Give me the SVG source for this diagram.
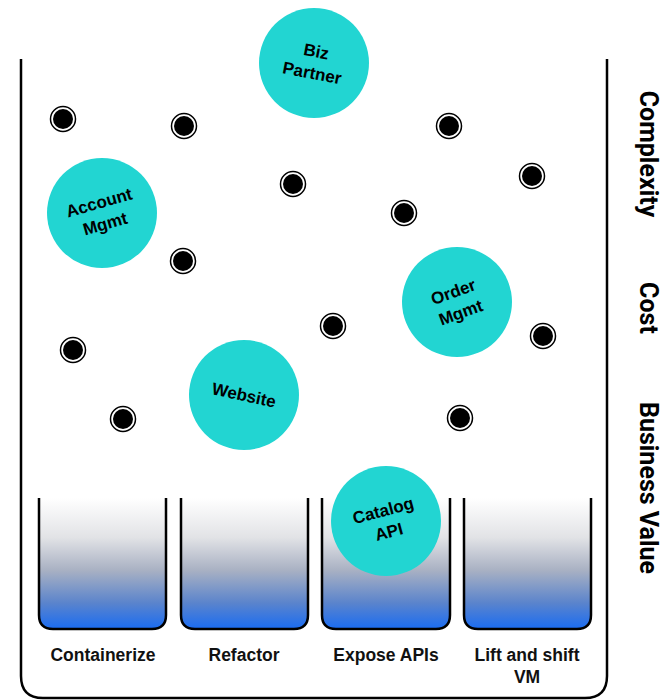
<svg xmlns="http://www.w3.org/2000/svg" width="669" height="700" viewBox="0 0 669 700">
<defs>
<linearGradient id="fill" x1="0" y1="0" x2="0" y2="1">
<stop offset="0" stop-color="#ffffff"/>
<stop offset="0.3" stop-color="#e2e3e6"/>
<stop offset="0.55" stop-color="#a9b1c3"/>
<stop offset="0.8" stop-color="#5b84cc"/>
<stop offset="1" stop-color="#1a6cf2"/>
</linearGradient>
<g id="dot"><circle r="12.5" fill="#fff" stroke="#000" stroke-width="1.5"/><circle r="10" fill="#000"/></g>
</defs>
<style>
.frame{fill:none;stroke:#000;stroke-width:2.5}
.bucket{fill:url(#fill);stroke:#000;stroke-width:2.5}
.node{fill:#22d5d2}
.nt{font-family:"Liberation Sans",Arial,sans-serif;font-weight:bold;font-size:17px;fill:#000;text-anchor:middle}
.lab{font-family:"Liberation Sans",Arial,sans-serif;font-weight:bold;font-size:17.5px;fill:#111;text-anchor:middle}
.side{font-family:Roboto,"Liberation Sans",sans-serif;font-weight:bold;font-size:25px;fill:#000;text-anchor:middle}
</style>
<rect width="669" height="700" fill="#fff"/>
<g id="container">
<path class="frame" d="M21,59 V676 Q21,698 43,698 H585 Q607,698 607,676 V59"/>
</g>
<g id="buckets">
<g id="b-containerize"><path class="bucket" d="M39,498 V615 Q39,629 53,629 H152 Q166,629 166,615 V498"/><text class="lab" x="103" y="661">Containerize</text></g>
<g id="b-refactor"><path class="bucket" d="M181,498 V615 Q181,629 195,629 H294 Q308,629 308,615 V498"/><text class="lab" x="244" y="661">Refactor</text></g>
<g id="b-expose"><path class="bucket" d="M322,498 V615 Q322,629 336,629 H436 Q450,629 450,615 V498"/><text class="lab" x="386" y="661">Expose APIs</text></g>
<g id="b-lift"><path class="bucket" d="M464,498 V615 Q464,629 478,629 H577 Q591,629 591,615 V498"/><text class="lab" x="527" y="661">Lift and shift</text><text class="lab" x="527" y="683">VM</text></g>
</g>
<g id="dots">
<use href="#dot" x="63" y="119"/>
<use href="#dot" x="184" y="126"/>
<use href="#dot" x="449" y="126"/>
<use href="#dot" x="293" y="184"/>
<use href="#dot" x="532" y="176"/>
<use href="#dot" x="404" y="213"/>
<use href="#dot" x="183" y="261"/>
<use href="#dot" x="333" y="326"/>
<use href="#dot" x="543" y="336"/>
<use href="#dot" x="73" y="350"/>
<use href="#dot" x="123" y="419"/>
<use href="#dot" x="460" y="418"/>
</g>
<g id="n-biz"><circle class="node" cx="314" cy="63" r="55"/><g transform="rotate(11 314 63)"><text class="nt" x="314" y="57">Biz</text><text class="nt" x="314" y="79">Partner</text></g></g>
<g id="n-account"><circle class="node" cx="102" cy="213" r="55"/><g transform="rotate(-16 102 213)"><text class="nt" x="102" y="208">Account</text><text class="nt" x="102" y="230">Mgmt</text></g></g>
<g id="n-order"><circle class="node" cx="457" cy="302" r="55"/><g transform="rotate(-20 457 302)"><text class="nt" x="457" y="297">Order</text><text class="nt" x="457" y="319">Mgmt</text></g></g>
<g id="n-website"><circle class="node" cx="244" cy="395" r="55"/><text class="nt" x="244" y="401" transform="rotate(12 244 395)">Website</text></g>
<g id="n-catalog"><circle class="node" cx="386" cy="521" r="55"/><g transform="rotate(-15 386 521)"><text class="nt" x="386" y="516">Catalog</text><text class="nt" x="386" y="538">API</text></g></g>
<g id="side-labels">
<text class="side" transform="translate(640 154) rotate(90)">Complexity</text>
<text class="side" transform="translate(640 308) rotate(90)">Cost</text>
<text class="side" transform="translate(640 488) rotate(90)">Business Value</text>
</g>
</svg>
